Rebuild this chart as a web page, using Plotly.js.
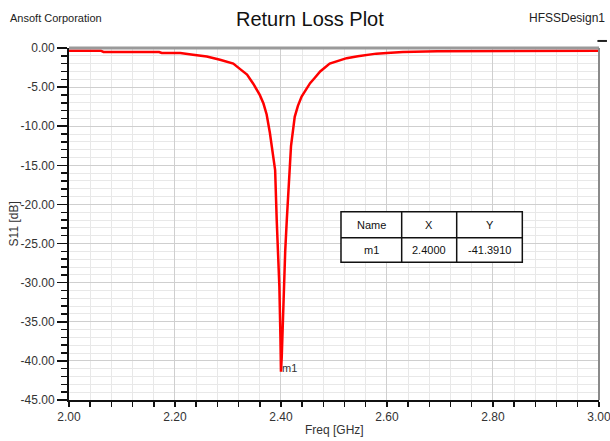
<!DOCTYPE html>
<html>
<head>
<meta charset="utf-8">
<script src="https://cdn.plot.ly/plotly-3.0.1.min.js"></script>
<style>html,body{margin:0;padding:0;background:#fff;}#chart{width:610px;height:441px;}</style>
</head>
<body>
<div id="chart"></div>
<script>
// ---- data ----
var freqGHz = [2.00, 2.06, 2.065, 2.17, 2.175, 2.21, 2.234, 2.26, 2.285, 2.31, 2.323, 2.336, 2.348, 2.36, 2.367, 2.373, 2.379, 2.384, 2.389, 2.392, 2.395, 2.397, 2.399, 2.400, 2.4015, 2.404, 2.406, 2.408, 2.411, 2.416, 2.419, 2.426, 2.432, 2.439, 2.447, 2.455, 2.464, 2.474, 2.492, 2.51, 2.524, 2.545, 2.562, 2.58, 2.60, 2.63, 2.695, 3.00];
var s11dB = [-0.34, -0.34, -0.50, -0.51, -0.63, -0.65, -0.85, -1.1, -1.5, -2.0, -2.7, -3.4, -4.6, -6.0, -7.1, -8.5, -10.8, -13.0, -15.6, -22.0, -26.0, -30.5, -37.0, -41.391, -39.5, -33.0, -30.5, -26.0, -22.0, -15.6, -12.5, -8.8, -7.4, -6.2, -5.3, -4.5, -3.8, -3.0, -2.0, -1.6, -1.3, -1.05, -0.85, -0.72, -0.64, -0.51, -0.40, -0.34];

var xTickVals = [2.0, 2.2, 2.4, 2.6, 2.8, 3.0];
var xTickLabels = ['2.00', '2.20', '2.40', '2.60', '2.80', '3.00'];
var yTickVals = [0, -5, -10, -15, -20, -25, -30, -35, -40, -45];
var yTickLabels = ['0.00', '-5.00', '-10.00', '-15.00', '-20.00', '-25.00', '-30.00', '-35.00', '-40.00', '-45.00'];

var markerNames = ['m1'];
var markerX = [2.4];
var markerY = [-41.391];

var tableHeader = ['Name', 'X', 'Y'];

// ---- figure ----
var font = 'Arial, "Liberation Sans", sans-serif';
var textColor = '#333333';

var trace = {
  type: 'scatter', mode: 'lines',
  x: freqGHz, y: s11dB,
  line: {color: '#ff0000', width: 2.5},
  hoverinfo: 'skip', showlegend: false
};

// table geometry in paper coords
var colX = [0.5132, 0.6277, 0.7315, 0.8553];
var rowY = [0.5349, 0.4611, 0.3912];
var shapes = [
  {type: 'rect', xref: 'paper', yref: 'paper', x0: colX[0], x1: colX[3], y0: rowY[2], y1: rowY[0],
   fillcolor: '#ffffff', line: {color: '#111', width: 1.5}, layer: 'above'},
  {type: 'line', xref: 'paper', yref: 'paper', x0: colX[0], x1: colX[3], y0: rowY[1], y1: rowY[1], line: {color: '#111', width: 1.5}},
  {type: 'line', xref: 'paper', yref: 'paper', x0: colX[1], x1: colX[1], y0: rowY[2], y1: rowY[0], line: {color: '#111', width: 1.5}},
  {type: 'line', xref: 'paper', yref: 'paper', x0: colX[2], x1: colX[2], y0: rowY[2], y1: rowY[0], line: {color: '#111', width: 1.5}},
  // top border (gray, thick) and right border
  {type: 'line', xref: 'paper', yref: 'paper', x0: 0, x1: 1, y0: 1, y1: 1, line: {color: '#9a9a9a', width: 3}, layer: 'above'},
  {type: 'line', xref: 'paper', yref: 'paper', x0: 1, x1: 1, y0: 0, y1: 1, line: {color: '#8a8a8a', width: 2}, layer: 'above'},
  // small legend dash at top right
  {type: 'line', xref: 'paper', yref: 'paper', x0: 0.997, x1: 1.015, y0: 1.02, y1: 1.02, line: {color: '#222', width: 2}, layer: 'above'}
];

var annotations = [
  {xref: 'paper', yref: 'paper', x: -0.115, y: 1.085, xanchor: 'left', yanchor: 'middle', showarrow: false,
   text: 'Ansoft Corporation', font: {family: font, size: 11, color: '#222'}},
  {xref: 'paper', yref: 'paper', x: 1.0151, y: 1.085, xanchor: 'right', yanchor: 'middle', showarrow: false,
   text: 'HFSSDesign1', font: {family: font, size: 12, color: '#222'}},
  {xref: 'paper', yref: 'paper', x: -0.103, y: 0.5, xanchor: 'center', yanchor: 'middle', showarrow: false, textangle: -90,
   text: 'S11 [dB]', font: {family: font, size: 12, color: textColor}},
  {xref: 'paper', yref: 'paper', x: 0.5, y: -0.085, xanchor: 'center', yanchor: 'middle', showarrow: false,
   text: 'Freq [GHz]', font: {family: font, size: 12, color: textColor}}
];
var colCenters = [(colX[0] + colX[1]) / 2, (colX[1] + colX[2]) / 2, (colX[2] + colX[3]) / 2];
var rowCenters = [(rowY[0] + rowY[1]) / 2, (rowY[1] + rowY[2]) / 2];
for (var c = 0; c < 3; c++) {
  annotations.push({xref: 'paper', yref: 'paper', x: colCenters[c], y: rowCenters[0], xanchor: 'center', yanchor: 'middle',
    showarrow: false, text: tableHeader[c], font: {family: font, size: 11, color: '#111'}});
}
for (var i = 0; i < markerNames.length; i++) {
  var rowVals = [markerNames[i], markerX[i].toFixed(4), markerY[i].toFixed(4)];
  for (var c2 = 0; c2 < 3; c2++) {
    annotations.push({xref: 'paper', yref: 'paper', x: colCenters[c2], y: rowCenters[1], xanchor: 'center', yanchor: 'middle',
      showarrow: false, text: rowVals[c2], font: {family: font, size: 11, color: '#111'}});
  }
  annotations.push({xref: 'x', yref: 'y', x: markerX[i], y: markerY[i], xanchor: 'left', yanchor: 'middle', yshift: 4, xshift: -1,
    showarrow: false, text: markerNames[i], font: {family: font, size: 11, color: '#333'}});
}

var layout = {
  width: 610, height: 441,
  paper_bgcolor: '#ffffff', plot_bgcolor: '#ffffff',
  margin: {l: 69, r: 11, t: 48, b: 41, pad: 0},
  showlegend: false,
  font: {family: font, color: textColor},
  title: {text: 'Return Loss Plot', xref: 'container', yref: 'container', x: 0.508, y: 0.957,
          xanchor: 'center', yanchor: 'middle', font: {family: font, size: 20, color: '#111'}},
  xaxis: {
    range: [2, 3.0002], tickvals: xTickVals, ticktext: xTickLabels, ticklabeloverflow: 'allow',
    showline: true, linecolor: '#111', linewidth: 2, mirror: false,
    ticks: 'outside', ticklen: 5, tickwidth: 1.5, tickcolor: '#111',
    showgrid: true, gridcolor: '#cfcfcf', gridwidth: 1, zeroline: false,
    tickfont: {family: font, size: 12, color: textColor},
    minor: {dtick: 0.04, tick0: 2, ticks: 'outside', ticklen: 5, tickwidth: 1.5, tickcolor: '#111', showgrid: true, gridcolor: '#e8e8e8', gridwidth: 1},
    fixedrange: true
  },
  yaxis: {
    range: [-45.0002, 0], tickvals: yTickVals, ticktext: yTickLabels, ticklabeloverflow: 'allow',
    showline: true, linecolor: '#111', linewidth: 2, mirror: false,
    ticks: 'outside', ticklen: 10, tickwidth: 1.5, tickcolor: '#111',
    showgrid: true, gridcolor: '#cfcfcf', gridwidth: 1, zeroline: false,
    tickfont: {family: font, size: 12, color: textColor},
    minor: {dtick: 1, tick0: 0, ticks: 'outside', ticklen: 6, tickwidth: 1.5, tickcolor: '#111', showgrid: true, gridcolor: '#e8e8e8', gridwidth: 1},
    fixedrange: true
  },
  shapes: shapes,
  annotations: annotations
};

Plotly.newPlot('chart', [trace], layout, {displayModeBar: false, staticPlot: true});
</script>
</body>
</html>
